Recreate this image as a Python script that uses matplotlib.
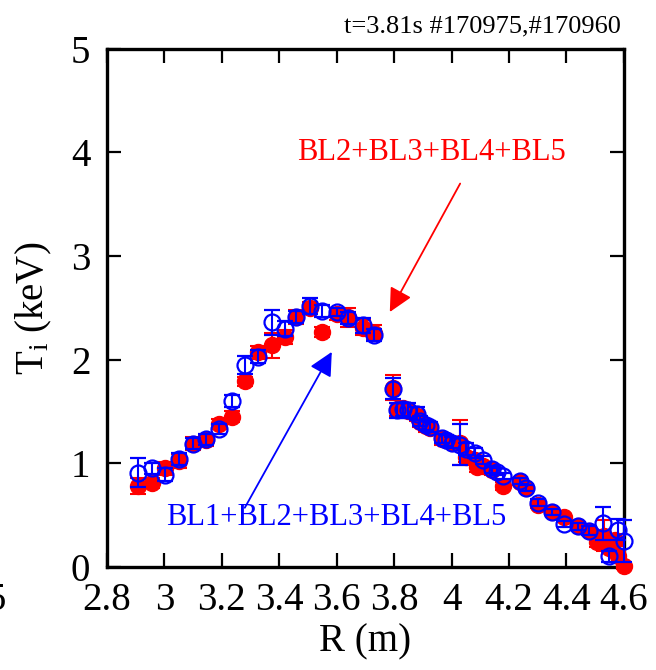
import matplotlib
matplotlib.use("Agg")
import matplotlib.pyplot as plt

plt.rcParams['font.family'] = ['Liberation Serif', 'DejaVu Serif']
plt.rcParams['mathtext.fontset'] = 'custom'
plt.rcParams['mathtext.rm'] = 'Liberation Serif'
plt.rcParams['mathtext.it'] = 'Liberation Serif'

# BL2+BL3+BL4+BL5 (red, filled)
r_red = [2.908, 2.957, 3.003, 3.05, 3.10, 3.145, 3.19, 3.235, 3.28, 3.326,
         3.375, 3.42, 3.46, 3.507, 3.55, 3.60, 3.64, 3.69, 3.73,
         3.796, 3.81, 3.83, 3.85, 3.88, 3.89, 3.91, 3.925, 3.966, 3.98,
         4.00, 4.03, 4.05, 4.08, 4.09, 4.11, 4.14, 4.18, 4.24, 4.26,
         4.30, 4.35, 4.39, 4.44, 4.48, 4.505, 4.53, 4.55, 4.57, 4.58, 4.60]
t_red = [0.78, 0.81, 0.95, 1.02, 1.19, 1.22, 1.38, 1.45, 1.79, 2.07,
         2.14, 2.22, 2.41, 2.50, 2.27, 2.44, 2.41, 2.31, 2.26,
         1.73, 1.52, 1.53, 1.50, 1.46, 1.40, 1.36, 1.34, 1.23, 1.22,
         1.20, 1.20, 1.06, 1.03, 0.96, 0.97, 0.93, 0.78, 0.82, 0.76,
         0.60, 0.53, 0.48, 0.39, 0.35, 0.24, 0.30, 0.18, 0.26, 0.10, 0.01]
e_red = [0.08, 0.05, 0.06, 0.07, 0.06, 0.05, 0.05, 0.05, 0.04, 0.06,
         0.12, 0.07, 0.07, 0.06, 0.05, 0.06, 0.09, 0.07, 0.07,
         0.12, 0.06, 0.05, 0.05, 0.05, 0.05, 0.06, 0.05, 0.05, 0.05,
         0.05, 0.22, 0.05, 0.04, 0.04, 0.04, 0.04, 0.04, 0.03, 0.03,
         0.03, 0.03, 0.03, 0.03, 0.03, 0.05, 0.15, 0.05, 0.06, 0.05, 0.03]

# BL1+BL2+BL3+BL4+BL5 (blue, open)
r_blue = [2.908, 2.957, 3.003, 3.05, 3.10, 3.145, 3.19, 3.235, 3.28, 3.326,
          3.375, 3.42, 3.46, 3.507, 3.55, 3.60, 3.64, 3.69, 3.73,
          3.796, 3.81, 3.83, 3.85, 3.88, 3.89, 3.91, 3.925, 3.966, 3.98,
          4.00, 4.03, 4.05, 4.08, 4.11, 4.14, 4.16, 4.18, 4.24, 4.26,
          4.30, 4.35, 4.39, 4.44, 4.48, 4.527, 4.55, 4.58, 4.60]
t_blue = [0.91, 0.95, 0.89, 1.04, 1.19, 1.23, 1.33, 1.60, 1.95, 2.03,
          2.36, 2.30, 2.41, 2.52, 2.47, 2.46, 2.40, 2.33, 2.24,
          1.72, 1.51, 1.52, 1.51, 1.48, 1.41, 1.37, 1.35, 1.24, 1.22,
          1.20, 1.18, 1.14, 1.10, 1.03, 0.94, 0.92, 0.88, 0.83, 0.76,
          0.62, 0.53, 0.41, 0.39, 0.35, 0.42, 0.10, 0.36, 0.25]
e_blue = [0.14, 0.05, 0.06, 0.06, 0.05, 0.05, 0.05, 0.06, 0.09, 0.06,
          0.12, 0.07, 0.06, 0.08, 0.06, 0.04, 0.06, 0.07, 0.06,
          0.10, 0.07, 0.06, 0.07, 0.06, 0.05, 0.05, 0.05, 0.04, 0.05,
          0.05, 0.20, 0.06, 0.05, 0.04, 0.03, 0.03, 0.03, 0.03, 0.03,
          0.03, 0.03, 0.03, 0.03, 0.04, 0.16, 0.05, 0.10, 0.20]

x_ticks = [2.8, 3.0, 3.2, 3.4, 3.6, 3.8, 4.0, 4.2, 4.4, 4.6]
x_labels = ['2.8', '3', '3.2', '3.4', '3.6', '3.8', '4', '4.2', '4.4', '4.6']
y_ticks = [0, 1, 2, 3, 4, 5]

fig = plt.figure(figsize=(6.56, 6.70), dpi=100)
ax = fig.add_axes([0.163, 0.154, 0.788, 0.773])

ax.errorbar(r_red, t_red, yerr=e_red, fmt='o', color='red', ms=11.5,
            mec='red', mfc='red', elinewidth=1.5, capsize=6, capthick=1.5,
            clip_on=False, zorder=3)
ax.errorbar(r_blue, t_blue, yerr=e_blue, fmt='o', color='blue', ms=11.5,
            mec='blue', mfc='none', mew=1.6, elinewidth=1.5, capsize=6,
            capthick=1.5, clip_on=False, zorder=4)

ax.set_xlim(2.8, 4.6)
ax.set_ylim(0, 5)
ax.set_xticks(x_ticks)
ax.set_xticklabels(x_labels)
ax.set_yticks(y_ticks)
ax.tick_params(direction='in', length=10, width=1.6, top=True, right=True,
               labelsize=28)
ax.tick_params(axis='x', pad=11)
ax.tick_params(axis='y', pad=12)
for s in ax.spines.values():
    s.set_linewidth(2.4)

ax.set_xlabel('R (m)', fontsize=28, labelpad=3)
ax.set_ylabel(r'T$_\mathregular{i}$ (keV)', fontsize=28, labelpad=12)

ax.annotate('', xy=(3.785, 2.46), xytext=(4.03, 3.70),
            arrowprops=dict(arrowstyle='-|>', color='red', lw=1.3,
                            mutation_scale=36, shrinkA=0, shrinkB=0))
ax.text(3.93, 4.0, 'BL2+BL3+BL4+BL5', color='red', fontsize=22,
        ha='center', va='center')

ax.annotate('', xy=(3.583, 2.075), xytext=(3.28, 0.57),
            arrowprops=dict(arrowstyle='-|>', color='blue', lw=1.3,
                            mutation_scale=36, shrinkA=0, shrinkB=0))
ax.text(3.597, 0.48, 'BL1+BL2+BL3+BL4+BL5', color='blue', fontsize=22,
        ha='center', va='center')

fig.text(0.947, 0.960, 't=3.81s #170975,#170960', fontsize=19,
         ha='right', va='center')
fig.text(6 / 656, 0.103, '5', fontsize=28, ha='right', va='center')

fig.savefig('out.png', dpi=100)
